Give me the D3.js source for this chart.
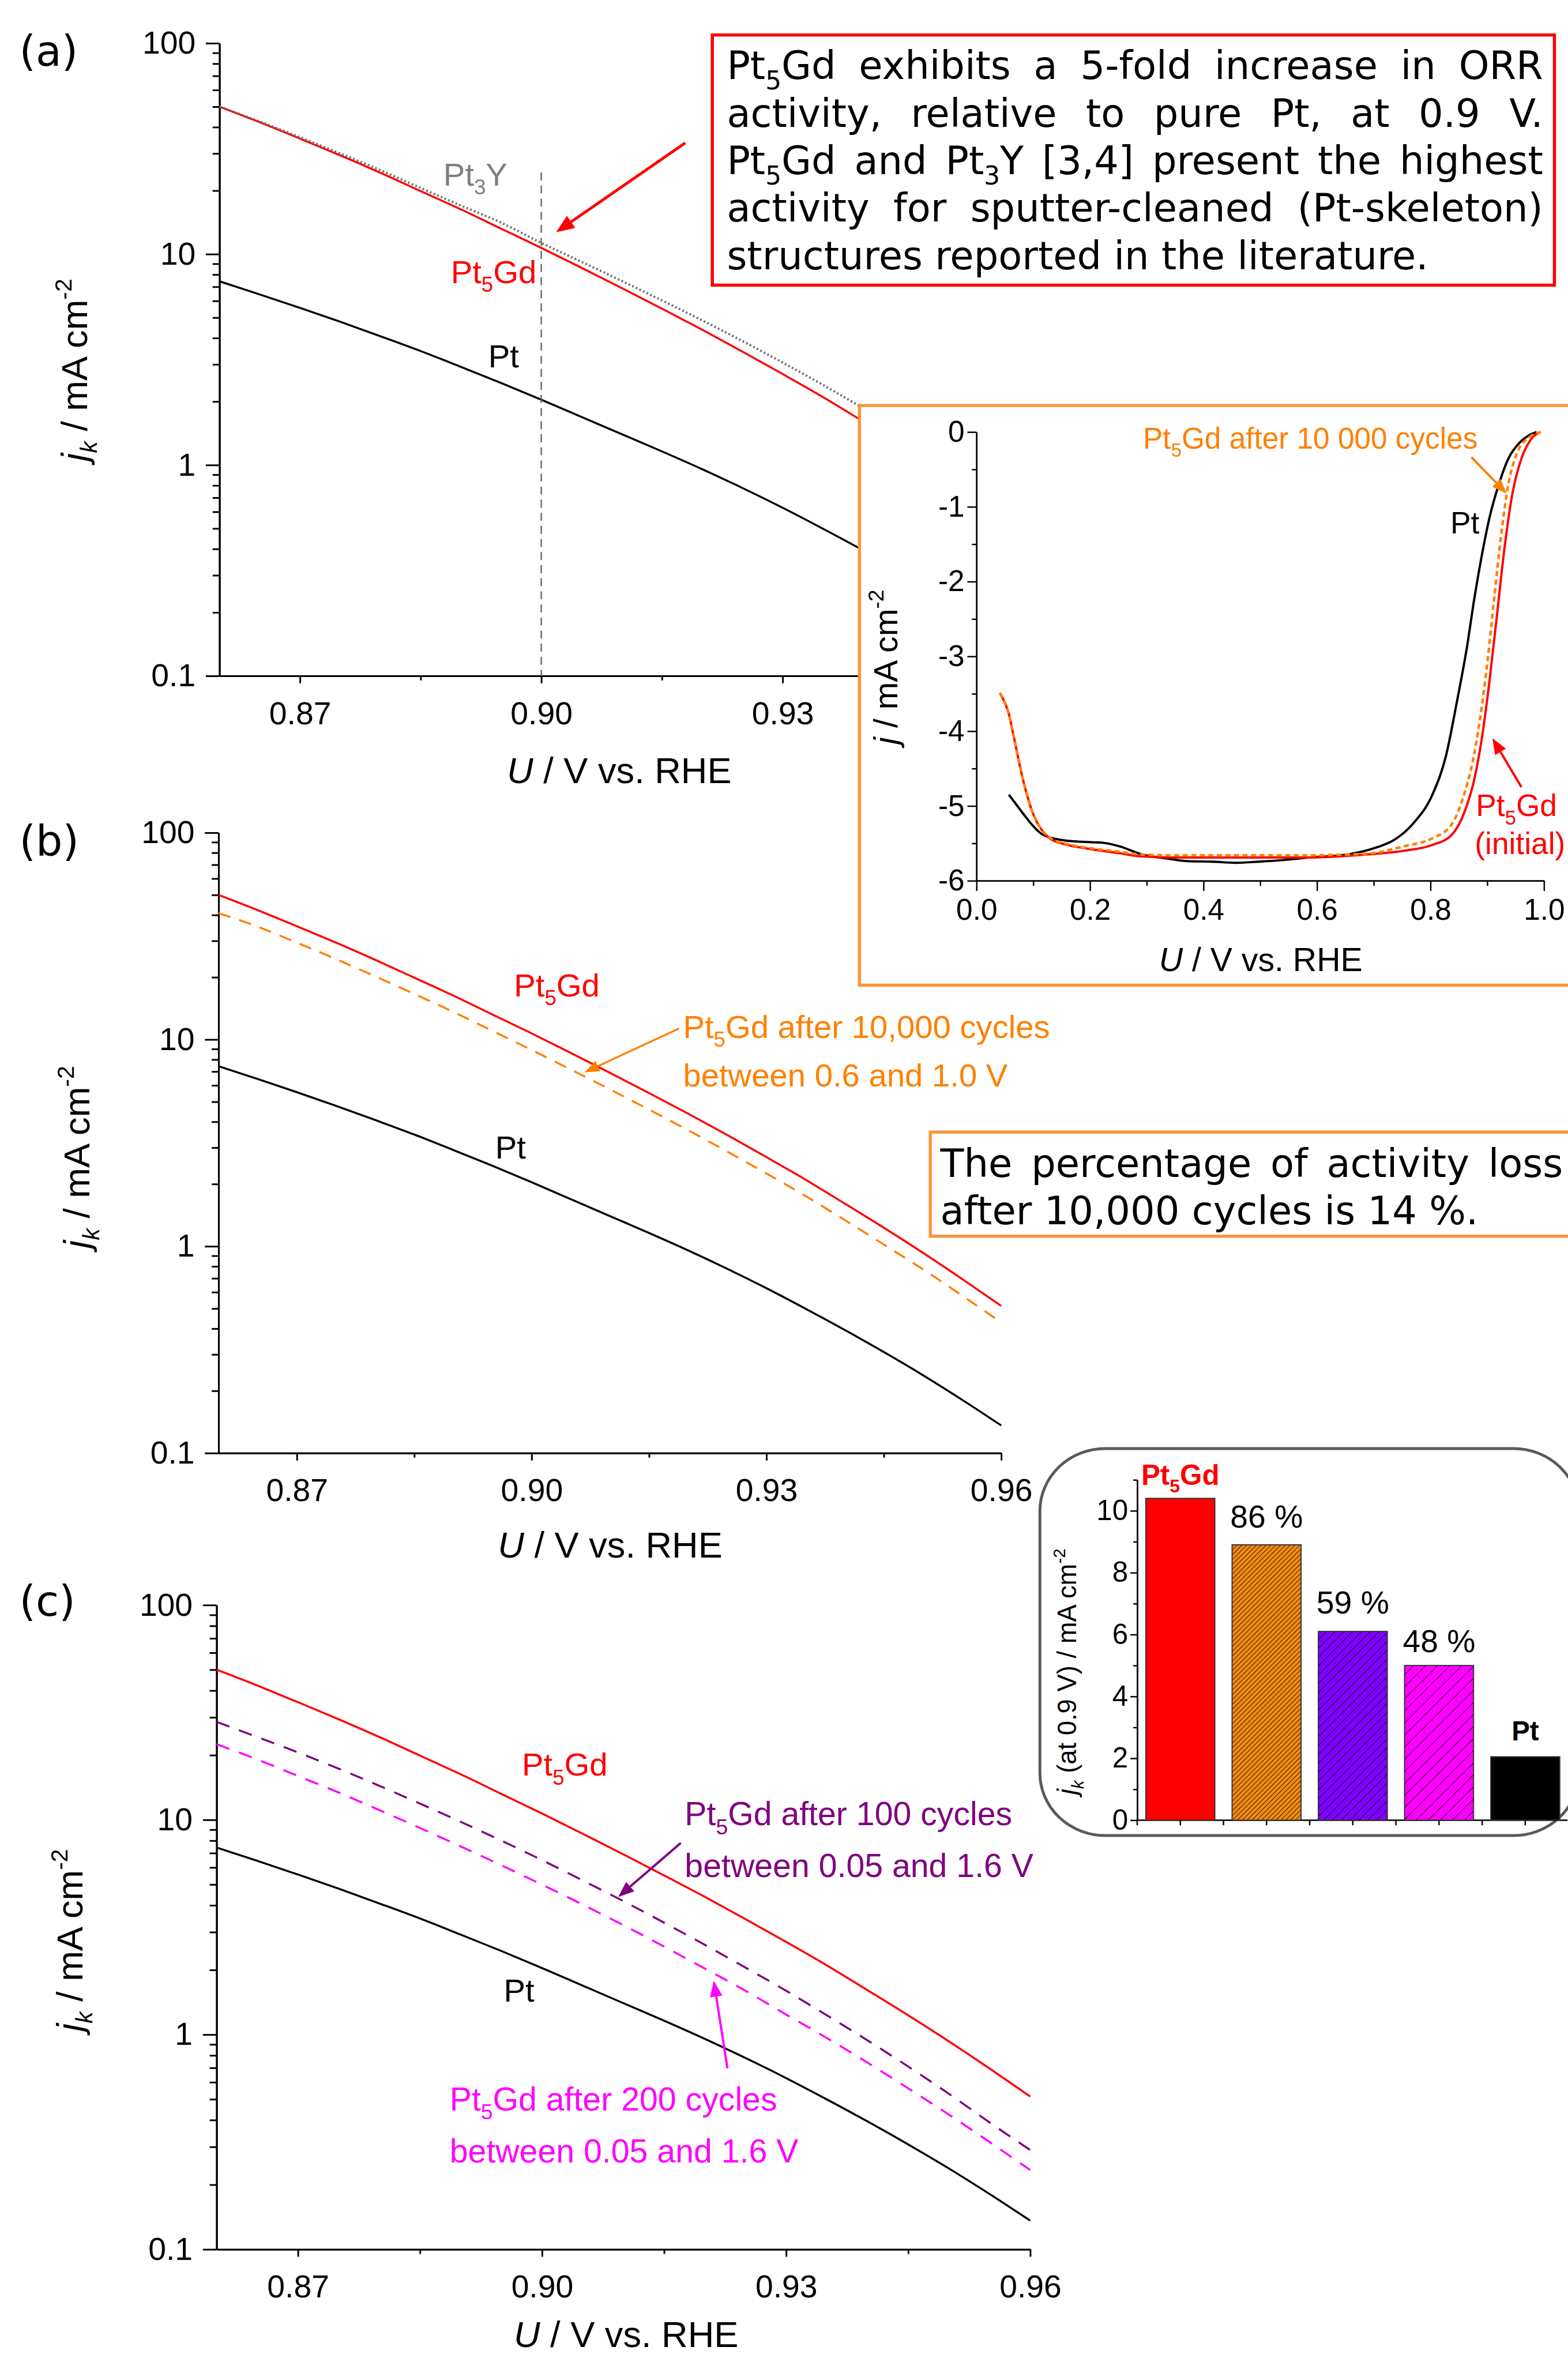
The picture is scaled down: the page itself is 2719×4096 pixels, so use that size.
<!DOCTYPE html>
<html>
<head>
<meta charset="utf-8">
<script src="https://cdn.jsdelivr.net/npm/d3@7"></script>
<style>
  body { margin: 0; background: #fff; }
  svg { display: block; }
</style>
</head>
<body>
<svg id="fig" width="2719" height="4096"></svg>
<script>
// ---------- data ----------
// kinetic current density j_k (mA cm-2) vs U (V vs RHE)
const U_GRID = [0.860,0.865,0.870,0.875,0.880,0.885,0.890,0.895,0.900,0.905,0.910,0.915,0.920,0.925,0.930,0.935,0.940,0.945,0.950,0.955,0.960];
const JK_PT    = [7.43,6.44,5.56,4.78,4.08,3.47,2.92,2.45,2.04,1.69,1.40,1.16,0.955,0.778,0.627,0.499,0.394,0.308,0.238,0.181,0.136];
const JK_PT5GD = [50,42.2,35.3,29.4,24.3,19.9,16.3,13.2,10.7,8.61,6.90,5.51,4.38,3.45,2.70,2.10,1.61,1.23,0.93,0.695,0.515];
const JK_PT3Y  = [50,42.5,35.8,30.0,25.0,20.6,17.0,14.1,11.3,9.19,7.46,6.03,4.85,3.87,3.06,2.40,1.86,1.44,1.10,0.836,0.627];
const JK_10K   = [40.8,35.1,29.4,24.5,20.2,16.6,13.6,11.0,8.90,7.16,5.74,4.58,3.64,2.87,2.25,1.75,1.34,1.02,0.774,0.578,0.428];
const JK_100   = [28.6,24.3,20.6,17.3,14.4,11.9,9.79,8.0,6.49,5.22,4.18,3.32,2.62,2.05,1.60,1.23,0.94,0.71,0.53,0.39,0.29];
const JK_200   = [22.5,19.1,16.0,13.4,11.1,9.16,7.52,6.14,4.99,4.03,3.23,2.57,2.03,1.60,1.24,0.964,0.74,0.562,0.424,0.316,0.234];

// ORR polarisation curves (inset): j (mA cm-2) vs U
const ORR_PT_U = [0.057,0.07,0.086,0.1,0.114,0.146,0.187,0.22,0.252,0.292,0.333,0.374,0.415,0.457,0.498,0.539,0.586,0.653,0.703,0.737,0.770,0.804,0.827,0.847,0.864,0.877,0.890,0.904,0.920,0.937,0.957,0.975,0.987];
const ORR_PT_J = [-4.85,-4.98,-5.14,-5.27,-5.37,-5.45,-5.48,-5.49,-5.54,-5.65,-5.70,-5.74,-5.745,-5.76,-5.745,-5.725,-5.69,-5.65,-5.56,-5.45,-5.23,-4.84,-4.34,-3.59,-2.89,-2.24,-1.67,-1.146,-0.71,-0.36,-0.142,-0.04,0];
const ORR_GD_U = [0.041,0.05,0.057,0.065,0.073,0.081,0.089,0.097,0.106,0.115,0.13,0.16,0.195,0.25,0.292,0.35,0.42,0.5,0.58,0.686,0.753,0.804,0.837,0.860,0.877,0.890,0.904,0.917,0.930,0.944,0.960,0.977,0.994];
const ORR_GD_J = [-3.49,-3.62,-3.77,-4.05,-4.34,-4.62,-4.85,-5.05,-5.21,-5.32,-5.44,-5.52,-5.57,-5.63,-5.675,-5.69,-5.69,-5.69,-5.69,-5.65,-5.60,-5.52,-5.39,-5.08,-4.65,-4.12,-3.33,-2.46,-1.58,-0.84,-0.36,-0.10,0];
const ORR_10K_U = [0.041,0.05,0.057,0.065,0.073,0.081,0.089,0.097,0.106,0.115,0.13,0.16,0.195,0.25,0.292,0.35,0.42,0.5,0.58,0.686,0.753,0.804,0.837,0.857,0.874,0.887,0.901,0.912,0.924,0.937,0.953,0.973,0.994];
const ORR_10K_J = [-3.49,-3.62,-3.77,-4.05,-4.34,-4.62,-4.85,-5.05,-5.21,-5.32,-5.43,-5.51,-5.56,-5.61,-5.65,-5.66,-5.66,-5.66,-5.66,-5.64,-5.54,-5.43,-5.25,-4.90,-4.42,-3.85,-3.03,-2.24,-1.41,-0.71,-0.27,-0.076,0];

// bar inset: j_k at 0.9 V
const BAR_KEYS   = ['Pt5Gd', 'after10000', 'after100', 'after200', 'Pt'];
const BAR_VALUES = [10.4, 8.9, 6.1, 5.0, 2.05];
const BAR_NOTES  = ['Pt_5Gd', '86 %', '59 %', '48 %', 'Pt'];

// ticks
const LOG_TICKS = [0.1, 1, 10, 100];
const U_TICKS = [0.87, 0.90, 0.93, 0.96];
const U_MINOR = [0.885, 0.915, 0.945];
const INSET_X_TICKS = [0, 0.2, 0.4, 0.6, 0.8, 1.0];
const INSET_Y_TICKS = [-6, -5, -4, -3, -2, -1, 0];
const BAR_Y_TICKS = [0, 2, 4, 6, 8, 10];

// ---------- setup ----------
const SANS = 'Liberation Sans, Arial, sans-serif';
const VERD = 'DejaVu Sans, Verdana, sans-serif';
const RED = '#ff0000', ORANGE = '#ff8000', PURPLE = '#800080', MAGENTA = '#ff00ff';

const svg = d3.select('#fig');
const defs = svg.append('defs');
const root = svg.append('g').attr('transform', 'scale(0.987)');

function parseRich(str) {
    // "_5" -> subscript character
    const segs = [];
    let buf = '';
    for (let i = 0; i < str.length; i++) {
        if (str[i] === '_') {
            if (buf) segs.push({ t: buf });
            buf = '';
            segs.push({ t: str[i + 1], sub: true });
            i++;
        } else buf += str[i];
    }
    if (buf) segs.push({ t: buf });
    return segs;
}

function rich(text, segs, fs) {
    let shift = 0;
    segs.forEach(s => {
        const target = s.sub ? fs * 0.27 : (s.sup ? -fs * 0.42 : 0);
        const ts = text.append('tspan').text(s.t);
        if (target - shift !== 0) ts.attr('dy', target - shift);
        shift = target;
        if (s.sub || s.sup) ts.attr('font-size', fs * 0.65);
        if (s.it) ts.attr('font-style', 'italic');
    });
    return text;
}

function label(g, x, y, str, fs, color, opts) {
    opts = opts || {};
    const t = g.append('text')
        .attr('x', x).attr('y', y)
        .attr('font-family', opts.family || SANS)
        .attr('font-size', fs)
        .attr('fill', color || '#000')
        .attr('text-anchor', opts.anchor || 'start');
    if (opts.bold) t.attr('font-weight', 'bold');
    rich(t, typeof str === 'string' ? parseRich(str) : str, fs);
    return t;
}

function vlabel(g, x, y, segs, fs) {
    const t = g.append('text')
        .attr('transform', `translate(${x},${y}) rotate(-90)`)
        .attr('font-family', SANS).attr('font-size', fs)
        .attr('text-anchor', 'middle');
    rich(t, segs, fs);
}

function arrow(g, x1, y1, x2, y2, color, w, hl, hw) {
    const a = Math.atan2(y2 - y1, x2 - x1);
    const bx = x2 - hl * Math.cos(a), by = y2 - hl * Math.sin(a);
    g.append('line')
        .attr('x1', x1).attr('y1', y1).attr('x2', bx).attr('y2', by)
        .attr('stroke', color).attr('stroke-width', w);
    const px = -Math.sin(a) * hw / 2, py = Math.cos(a) * hw / 2;
    g.append('path')
        .attr('d', `M${x2},${y2}L${bx + px},${by + py}L${bx - px},${by - py}Z`)
        .attr('fill', color);
}

function styleAxis(ax, fs, sw) {
    ax.attr('font-family', SANS).attr('font-size', fs);
    ax.selectAll('path, line').attr('stroke', '#000').attr('stroke-width', sw);
    ax.selectAll('text').attr('fill', '#000');
}

const YLAB = [{ t: 'j', it: 1 }, { t: 'k', sub: 1, it: 1 }, { t: ' / mA cm' }, { t: '-2', sup: 1 }];
const XLAB = [{ t: 'U', it: 1 }, { t: ' / V vs. RHE' }];

// ---------- log panels (a), (b), (c) ----------
function logPanel(cfg) {
    const g = root.append('g');
    const x = d3.scaleLinear().domain([0.86, 0.96]).range([cfg.x0, cfg.x1]);
    const y = d3.scaleLog().domain([0.1, 100]).range([cfg.yBot, cfg.yTop]);

    const minor = [];
    [0.1, 1, 10].forEach(d => { for (let k = 2; k <= 9; k++) minor.push(d * k); });

    const ay1 = g.append('g').attr('transform', `translate(${cfg.x0},0)`)
        .call(d3.axisLeft(y).tickValues(minor).tickSize(12).tickSizeOuter(0).tickFormat(''));
    styleAxis(ay1, 56, 3);
    const ay2 = g.append('g').attr('transform', `translate(${cfg.x0},0)`)
        .call(d3.axisLeft(y).tickValues(LOG_TICKS).tickSize(24).tickSizeOuter(0).tickPadding(18).tickFormat(d => String(d)));
    styleAxis(ay2, 56, 3);

    const ax1 = g.append('g').attr('transform', `translate(0,${cfg.yBot})`)
        .call(d3.axisBottom(x).tickValues(U_MINOR).tickSize(8).tickSizeOuter(0).tickFormat(''));
    styleAxis(ax1, 56, 3);
    const ax2 = g.append('g').attr('transform', `translate(0,${cfg.yBot})`)
        .call(d3.axisBottom(x).tickValues(U_TICKS).tickSize(13).tickSizeOuter(0).tickPadding(32).tickFormat(d3.format('.2f')));
    styleAxis(ax2, 56, 3);

    vlabel(g, cfg.ylx, cfg.yly, YLAB, 64);
    label(g, cfg.xlx, cfg.xly, XLAB, 64, '#000', { anchor: 'middle' });
    label(g, 34, cfg.tagY, cfg.tag, 74, '#000', { family: VERD });

    const line = d3.line()
        .x((d, i) => x(U_GRID[i]))
        .y(d => y(d))
        .curve(d3.curveMonotoneX);

    cfg.series.forEach(s => {
        g.append('path')
            .attr('d', line(s.data))
            .attr('fill', 'none')
            .attr('stroke', s.color)
            .attr('stroke-width', s.width || 3.5)
            .attr('stroke-dasharray', s.dash || null);
    });
    return { g, x, y };
}

// panel (a)
const pa = logPanel({
    x0: 385.6, x1: 1799, yTop: 75.9, yBot: 1187.5,
    ylx: 153, yly: 650, xlx: 1088, xly: 1376, tag: '(a)', tagY: 116,
    series: [
        { data: JK_PT5GD, color: RED },
        { data: JK_PT3Y, color: '#6e6e6e', dash: '3,4', width: 4 },
        { data: JK_PT, color: '#000' }
    ]
});
pa.g.append('line')
    .attr('x1', pa.x(0.90)).attr('x2', pa.x(0.90))
    .attr('y1', 303).attr('y2', 1187.5)
    .attr('stroke', '#6a6a6a').attr('stroke-width', 2.5).attr('stroke-dasharray', '14,9');
label(pa.g, 779, 326, 'Pt_3Y', 57, '#808080');
label(pa.g, 792, 497, 'Pt_5Gd', 57, RED);
label(pa.g, 858, 645, 'Pt', 57, '#000');

// panel (b)
const pb = logPanel({
    x0: 384, x1: 1759, yTop: 1463, yBot: 2553,
    ylx: 157, yly: 2033, xlx: 1072, xly: 2737, tag: '(b)', tagY: 1504,
    series: [
        { data: JK_10K, color: ORANGE, dash: '22,16' },
        { data: JK_PT5GD, color: RED },
        { data: JK_PT, color: '#000' }
    ]
});
label(pb.g, 903, 1751, 'Pt_5Gd', 57, RED);
label(pb.g, 1200, 1824, 'Pt_5Gd after 10,000 cycles', 57, ORANGE);
label(pb.g, 1200, 1909, 'between 0.6 and 1.0 V', 57, ORANGE);
label(pb.g, 870, 2035, 'Pt', 57, '#000');
arrow(pb.g, 1193, 1807, 1027, 1884, ORANGE, 3.5, 26, 20);

// panel (c)
const pc = logPanel({
    x0: 380.5, x1: 1810, yTop: 2820, yBot: 3952,
    ylx: 145, yly: 3409, xlx: 1100, xly: 4124, tag: '(c)', tagY: 2839,
    series: [
        { data: JK_100, color: PURPLE, dash: '24,18' },
        { data: JK_200, color: MAGENTA, dash: '24,18' },
        { data: JK_PT5GD, color: RED },
        { data: JK_PT, color: '#000' }
    ]
});
label(pc.g, 917, 3120, 'Pt_5Gd', 57, RED);
label(pc.g, 1203, 3207, 'Pt_5Gd after 100 cycles', 58, PURPLE);
label(pc.g, 1203, 3298, 'between 0.05 and 1.6 V', 58, PURPLE);
label(pc.g, 885, 3517, 'Pt', 57, '#000');
label(pc.g, 790, 3708, 'Pt_5Gd after 200 cycles', 58, MAGENTA);
label(pc.g, 790, 3799, 'between 0.05 and 1.6 V', 58, MAGENTA);
arrow(pc.g, 1196, 3238, 1086, 3333, PURPLE, 4, 28, 22);
arrow(pc.g, 1278, 3634, 1254, 3480, MAGENTA, 4, 28, 22);

// red arrow in (a) pointing at 0.9 V
arrow(root, 1204, 251, 977, 408, RED, 5, 32, 26);

// ---------- justified text boxes ----------
function textBlock(g, lines, x, y0, lh, width, fs) {
    lines.forEach((ln, i) => {
        const words = ln.text.split(' ');
        const els = words.map(w => label(g, 0, y0 + i * lh, w, fs, '#000', { family: VERD }));
        const ws = els.map(e => e.node().getComputedTextLength());
        const gap = ln.justify && words.length > 1
            ? (width - d3.sum(ws)) / (words.length - 1)
            : fs * 0.318;
        let cx = x;
        els.forEach((e, k) => { e.attr('x', cx); cx += ws[k] + gap; });
    });
}

const box1 = root.append('g');
box1.append('rect')
    .attr('x', 1251.5).attr('y', 61.5).attr('width', 1479.5).attr('height', 439.5)
    .attr('fill', '#fff').attr('stroke', RED).attr('stroke-width', 5.5);
textBlock(box1, [
    { text: 'Pt_5Gd exhibits a 5-fold increase in ORR', justify: true },
    { text: 'activity, relative to pure Pt, at 0.9 V.', justify: true },
    { text: 'Pt_5Gd and Pt_3Y [3,4] present the highest', justify: true },
    { text: 'activity for sputter-cleaned (Pt-skeleton)', justify: true },
    { text: 'structures reported in the literature.', justify: false }
], 1277, 139, 83.5, 1434, 68);

// ---------- ORR inset ----------
const ins = root.append('g');
ins.append('rect')
    .attr('x', 1510).attr('y', 712.5).attr('width', 1300).attr('height', 1018.5)
    .attr('fill', '#fff').attr('stroke', '#f7963c').attr('stroke-width', 5.5);

const ix = d3.scaleLinear().domain([0, 1]).range([1715.6, 2712.6]);
const iy = d3.scaleLinear().domain([-6, 0]).range([1547.4, 759]);

const iyMinor = ins.append('g').attr('transform', 'translate(1715.6,0)')
    .call(d3.axisLeft(iy).tickValues([-5.5, -4.5, -3.5, -2.5, -1.5, -0.5]).tickSize(8).tickSizeOuter(0).tickFormat(''));
styleAxis(iyMinor, 52, 2.5);
const iyMajor = ins.append('g').attr('transform', 'translate(1715.6,0)')
    .call(d3.axisLeft(iy).tickValues(INSET_Y_TICKS).tickSize(16).tickSizeOuter(0).tickPadding(5).tickFormat(d => String(d)));
styleAxis(iyMajor, 52, 2.5);
const ixMinor = ins.append('g').attr('transform', 'translate(0,1547.4)')
    .call(d3.axisBottom(ix).tickValues([0.1, 0.3, 0.5, 0.7, 0.9]).tickSize(9).tickSizeOuter(0).tickFormat(''));
styleAxis(ixMinor, 52, 2.5);
const ixMajor = ins.append('g').attr('transform', 'translate(0,1547.4)')
    .call(d3.axisBottom(ix).tickValues(INSET_X_TICKS).tickSize(18).tickSizeOuter(0).tickPadding(14).tickFormat(d3.format('.1f')));
styleAxis(ixMajor, 52, 2.5);

vlabel(ins, 1577, 1172, [{ t: 'j', it: 1 }, { t: ' / mA cm' }, { t: '-2', sup: 1 }], 58);
label(ins, 2215, 1706, XLAB, 58, '#000', { anchor: 'middle' });

const orrLine = (us) => d3.line()
    .x((d, i) => ix(us[i]))
    .y(d => iy(d))
    .curve(d3.curveMonotoneX);

ins.append('path').attr('d', orrLine(ORR_PT_U)(ORR_PT_J))
    .attr('fill', 'none').attr('stroke', '#000').attr('stroke-width', 4);
ins.append('path').attr('d', orrLine(ORR_GD_U)(ORR_GD_J))
    .attr('fill', 'none').attr('stroke', RED).attr('stroke-width', 4);
ins.append('path').attr('d', orrLine(ORR_10K_U)(ORR_10K_J))
    .attr('fill', 'none').attr('stroke', ORANGE).attr('stroke-width', 4.5).attr('stroke-dasharray', '9,6');

label(ins, 2008, 788, 'Pt_5Gd after 10 000 cycles', 52, ORANGE);
label(ins, 2548, 937, 'Pt', 54, '#000');
label(ins, 2593, 1434, 'Pt_5Gd', 54, RED);
label(ins, 2591, 1501, '(initial)', 54, RED);
arrow(ins, 2585, 803, 2647, 867, ORANGE, 4, 26, 20);
arrow(ins, 2673, 1383, 2622, 1297, RED, 4, 28, 22);

// ---------- orange text box (b) ----------
const box2 = root.append('g');
box2.append('rect')
    .attr('x', 1634.5).attr('y', 1989).attr('width', 1200).attr('height', 183)
    .attr('fill', '#fff').attr('stroke', '#f7963c').attr('stroke-width', 5.5);
textBlock(box2, [
    { text: 'The percentage of activity loss', justify: true },
    { text: 'after 10,000 cycles is 14 %.', justify: false }
], 1652, 2068, 83, 1094, 68);

// ---------- bar inset ----------
const bar = root.append('g');
bar.append('rect')
    .attr('x', 1827).attr('y', 2545).attr('width', 947).attr('height', 680)
    .attr('rx', 115).attr('ry', 110)
    .attr('fill', '#fff').attr('stroke', '#5a5a5a').attr('stroke-width', 5);

function hatch(id, base, spacing, lw) {
    const p = defs.append('pattern')
        .attr('id', id)
        .attr('patternUnits', 'userSpaceOnUse')
        .attr('width', spacing).attr('height', spacing)
        .attr('patternTransform', 'rotate(45)');
    p.append('rect').attr('width', spacing).attr('height', spacing).attr('fill', base);
    p.append('line').attr('x1', 0).attr('y1', 0).attr('x2', 0).attr('y2', spacing)
        .attr('stroke', '#000').attr('stroke-width', lw);
}
hatch('h10k', '#f28a12', 6, 1.6);
hatch('h100', '#8000ff', 11, 1.8);
hatch('h200', '#ff00ff', 15, 1.8);
const BAR_FILLS = [RED, 'url(#h10k)', 'url(#h100)', 'url(#h200)', '#000'];

const bx = d3.scaleBand().domain(BAR_KEYS).range([1998, 2755.5]).paddingInner(0.2).paddingOuter(0.1);
const by = d3.scaleLinear().domain([0, 11]).range([3198, 2600]);

const byMinor = bar.append('g').attr('transform', 'translate(1998,0)')
    .call(d3.axisLeft(by).tickValues([1, 3, 5, 7, 9, 11]).tickSize(7).tickSizeOuter(0).tickFormat(''));
styleAxis(byMinor, 50, 2.5);
const byMajor = bar.append('g').attr('transform', 'translate(1998,0)')
    .call(d3.axisLeft(by).tickValues(BAR_Y_TICKS).tickSize(12).tickSizeOuter(0).tickPadding(4).tickFormat(d => String(d)));
styleAxis(byMajor, 50, 2.5);

const bxTicks = [];
BAR_KEYS.forEach(k => {
    bxTicks.push(bx(k) - bx.step() * bx.paddingInner() / 2);
    bxTicks.push(bx(k) + bx.bandwidth() / 2);
});
bar.append('line').attr('x1', 1998).attr('x2', 2754).attr('y1', 3198).attr('y2', 3198)
    .attr('stroke', '#000').attr('stroke-width', 2.5);
bar.selectAll('line.xt').data(bxTicks).enter().append('line')
    .attr('class', 'xt')
    .attr('x1', d => d).attr('x2', d => d).attr('y1', 3198).attr('y2', 3207)
    .attr('stroke', '#000').attr('stroke-width', 2.5);

bar.selectAll('rect.bar').data(BAR_VALUES).enter().append('rect')
    .attr('class', 'bar')
    .attr('x', (d, i) => bx(BAR_KEYS[i]))
    .attr('width', bx.bandwidth())
    .attr('y', d => by(d))
    .attr('height', d => by(0) - by(d))
    .attr('fill', (d, i) => BAR_FILLS[i])
    .attr('stroke', '#333').attr('stroke-width', 2);

const NOTE_STYLE = [
    { fs: 50, color: RED, bold: true, gap: 24 },
    { fs: 56, color: '#000', gap: 30 },
    { fs: 56, color: '#000', gap: 32 },
    { fs: 56, color: '#000', gap: 23 },
    { fs: 48, color: '#000', bold: true, gap: 29 }
];
BAR_NOTES.forEach((n, i) => {
    const s = NOTE_STYLE[i];
    label(bar, bx(BAR_KEYS[i]) + bx.bandwidth() / 2, by(BAR_VALUES[i]) - s.gap, n, s.fs, s.color,
        { anchor: 'middle', bold: s.bold });
});

vlabel(bar, 1891, 2937,
    [{ t: 'j', it: 1 }, { t: 'k', sub: 1, it: 1 }, { t: ' (at 0.9 V) / mA cm' }, { t: '-2', sup: 1 }], 46);
</script>
</body>
</html>
